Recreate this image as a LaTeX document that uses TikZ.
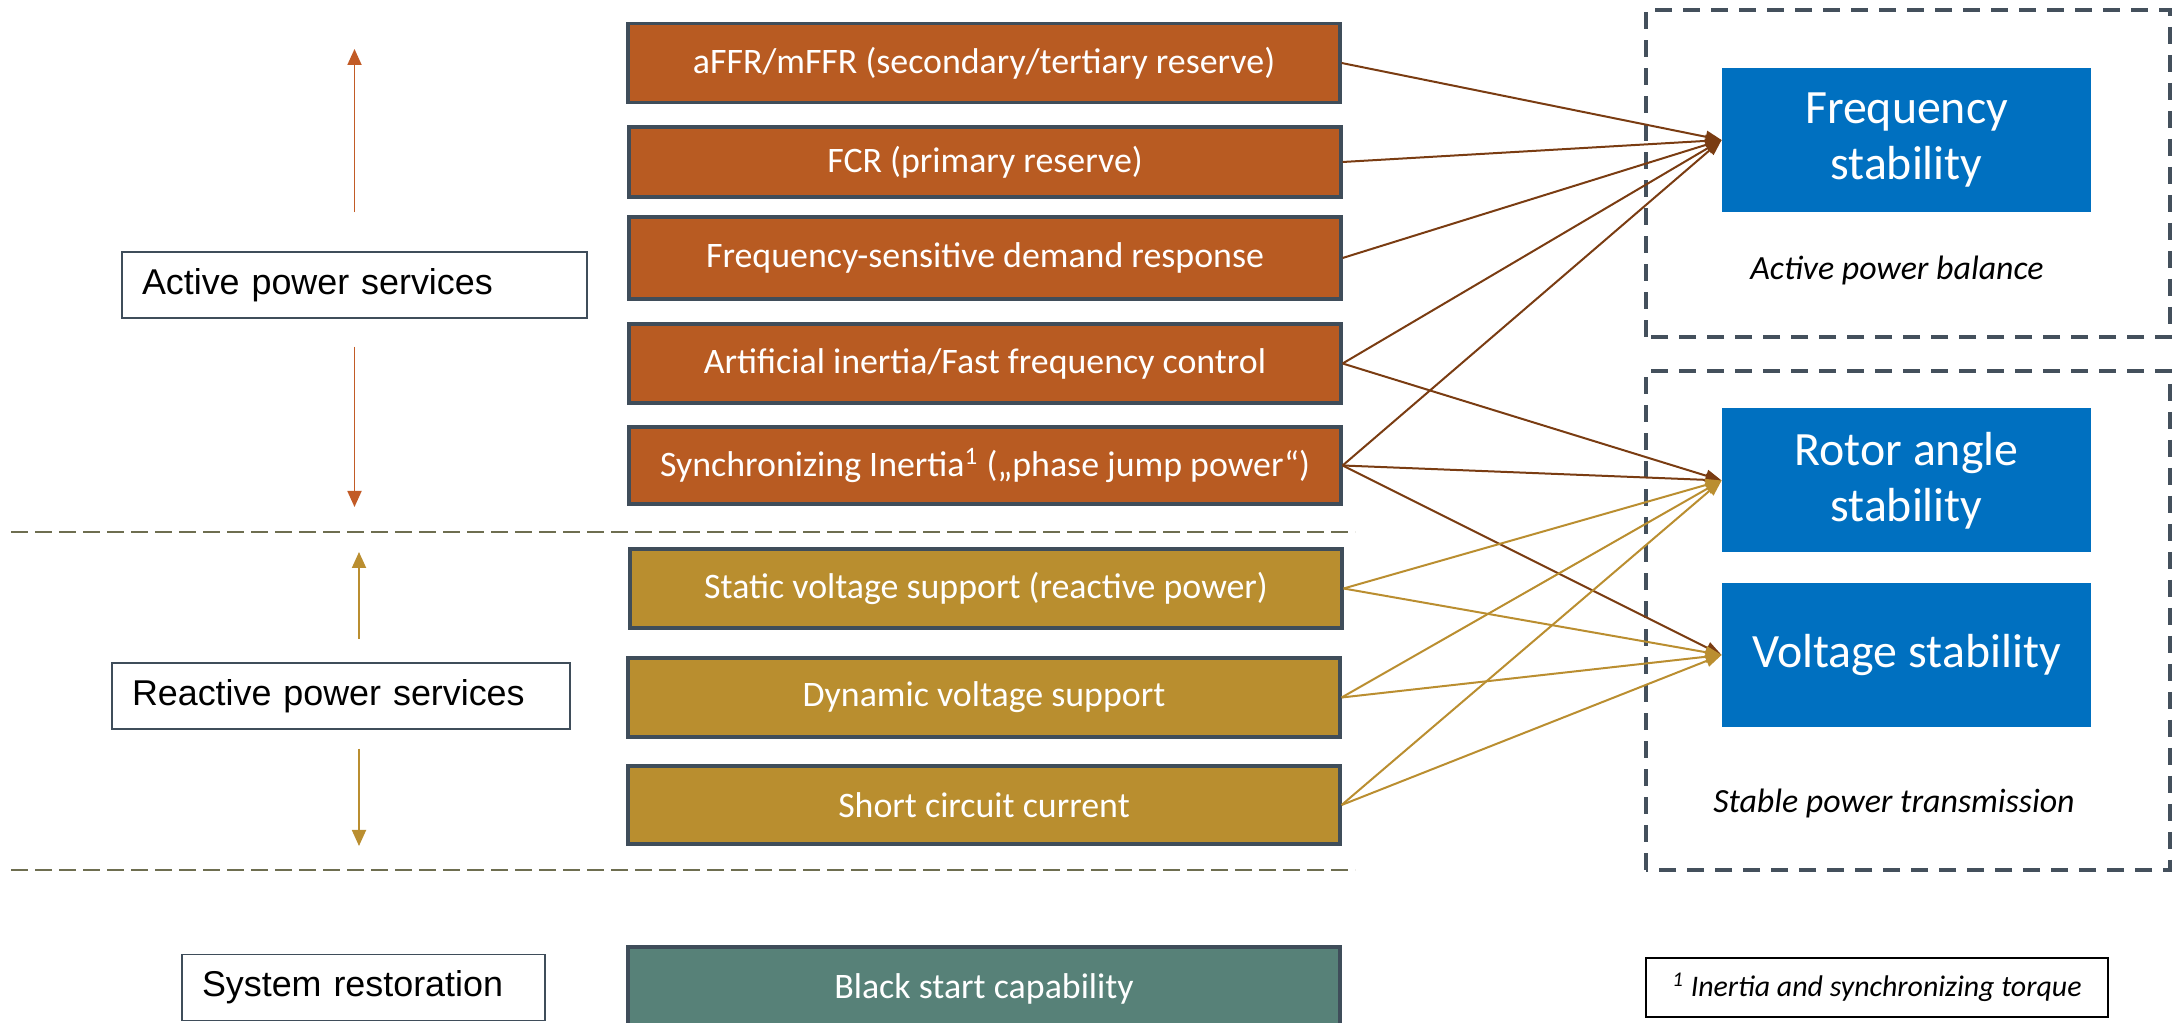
\documentclass[tikz,border=0pt]{standalone}
\usepackage{fontspec}
\setmainfont{Carlito}
\newfontfamily\arialfont{Liberation Sans}
\usetikzlibrary{arrows.meta}

\definecolor{actfill}{HTML}{B85B22}
\definecolor{reactfill}{HTML}{B98E2F}
\definecolor{restfill}{HTML}{578178}
\definecolor{boxedge}{HTML}{3F4D5A}
\definecolor{stabfill}{HTML}{0070C0}
\definecolor{actline}{HTML}{7A3C12}
\definecolor{reactline}{HTML}{BA8E30}
\definecolor{actarr}{HTML}{C25B26}
\definecolor{sepline}{HTML}{6E6E50}
\definecolor{frameedge}{HTML}{44505C}

\begin{document}
\begin{tikzpicture}[service/.style={draw=boxedge,line width=1.6bp,text=white,
						minimum width=356bp,minimum height=39.5bp,
						font=\fontsize{18}{21}\selectfont},
						stab/.style={fill=stabfill,text=white,align=center,
						minimum width=184.5bp,minimum height=72bp,
						font=\fontsize{24}{28}\selectfont},
						group/.style={draw=boxedge,line width=0.8bp,inner xsep=10bp,
						align=left,minimum height=33bp,
						font=\arialfont\fontsize{18}{21}\selectfont},
						actlink/.style={draw=actline,line width=1bp,
						-{Triangle[length=8bp,width=6bp]}},
						reactlink/.style={draw=reactline,line width=1bp,
						-{Triangle[length=8bp,width=6bp]}},
						sidearrow/.style={line width=0.9bp,
						-{Triangle[length=8bp,width=7bp]}},
						frame/.style={draw=frameedge,line width=1.6bp,
						dash pattern=on 8.5bp off 5.5bp},
						sep/.style={draw=sepline,line width=1bp,
						dash pattern=on 8.5bp off 3.5bp}]

		\useasboundingbox (0bp,0bp) rectangle (1086bp,511.5bp);

		\draw[frame] (823bp,343bp) rectangle (1085bp,506.5bp);
		\draw[frame] (823bp,76.5bp) rectangle (1085bp,326bp);

		\draw[sep] (5.5bp,245.5bp) -- (677.5bp,245.5bp);
		\draw[sep] (5.5bp,76.5bp) -- (677.5bp,76.5bp);

		\node[service,fill=actfill] (affr) at (492bp,480bp) {aFFR/mFFR (secondary/tertiary reserve)};
		\node[service,fill=actfill,minimum height=35bp] (fcr) at (492.5bp,430.5bp) {FCR (primary reserve)};
		\node[service,fill=actfill,minimum height=41bp] (fsdr) at (492.5bp,382.5bp) {Frequency-sensitive demand response};
		\node[service,fill=actfill] (ainertia) at (492.5bp,329.75bp) {Artificial inertia/Fast frequency control};
		\node[service,fill=actfill,minimum height=38.5bp] (sinertia) at (492.5bp,278.75bp) {Synchronizing Inertia\textsuperscript{1} („phase jump power“)};

		\node[service,fill=reactfill] (static) at (493bp,217.25bp) {Static voltage support (reactive power)};
		\node[service,fill=reactfill] (dynamic) at (492bp,162.75bp) {Dynamic voltage support};
		\node[service,fill=reactfill,minimum height=39bp] (shortcc) at (492bp,109bp) {Short circuit current};

		\node[service,fill=restfill,minimum height=42bp] (blackstart) at (492bp,17bp) {Black start capability};

		\node[stab] (freq) at (953.25bp,441.5bp) {Frequency\\stability};
		\node[stab] (rotor) at (953.25bp,271.25bp) {Rotor angle\\stability};
		\node[stab] (volt) at (953.25bp,184bp) {Voltage stability};

		\node[font=\itshape\fontsize{17}{20}\selectfont] (balance) at (948.5bp,376.5bp) {Active power balance};
		\node[font=\itshape\fontsize{17}{20}\selectfont] (transm) at (947bp,110bp) {Stable power transmission};
		\node[draw=black,line width=0.8bp,minimum width=231bp,minimum height=29.5bp,
			font=\itshape\fontsize{15}{18}\selectfont] (footnote) at (938.5bp,17.75bp) {\textsuperscript{1} Inertia and synchronizing torque};

		\node[group,text width=212.5bp] (actlabel) at (177.25bp,369bp) {Active power services};
		\node[group,text width=209bp] (reactlabel) at (170.5bp,163.5bp) {Reactive power services};
		\node[group,text width=161.5bp] (restlabel) at (181.75bp,17.75bp) {System restoration};

		\coordinate (acttop) at (177.25bp,487bp);
		\coordinate (actbot) at (177.25bp,258bp);
		\coordinate (reacttop) at (179.5bp,235.5bp);
		\coordinate (reactbot) at (179.5bp,88.5bp);

		\draw[sidearrow,draw=actarr,fill=actarr,shorten <=19.5bp] (actlabel.north) -- (acttop);
		\draw[sidearrow,draw=actarr,fill=actarr,shorten <=14bp] (actlabel.south) -- (actbot);
		\draw[sidearrow,draw=reactline,fill=reactline,shorten <=11.5bp] (reacttop |- reactlabel.north) -- (reacttop);
		\draw[sidearrow,draw=reactline,fill=reactline,shorten <=9.5bp] (reactbot |- reactlabel.south) -- (reactbot);

		\draw[actlink] (affr.east) -- (freq.west);
		\draw[actlink] (fcr.east) -- (freq.west);
		\draw[actlink] (fsdr.east) -- (freq.west);
		\draw[actlink] (ainertia.east) -- (freq.west);
		\draw[actlink] (ainertia.east) -- (rotor.west);
		\draw[actlink] (sinertia.east) -- (freq.west);
		\draw[actlink] (sinertia.east) -- (rotor.west);
		\draw[actlink] (sinertia.east) -- (volt.west);

		\draw[reactlink] (static.east) -- (rotor.west);
		\draw[reactlink] (static.east) -- (volt.west);
		\draw[reactlink] (dynamic.east) -- (rotor.west);
		\draw[reactlink] (dynamic.east) -- (volt.west);
		\draw[reactlink] (shortcc.east) -- (rotor.west);
		\draw[reactlink] (shortcc.east) -- (volt.west);

	\end{tikzpicture}
\end{document}
